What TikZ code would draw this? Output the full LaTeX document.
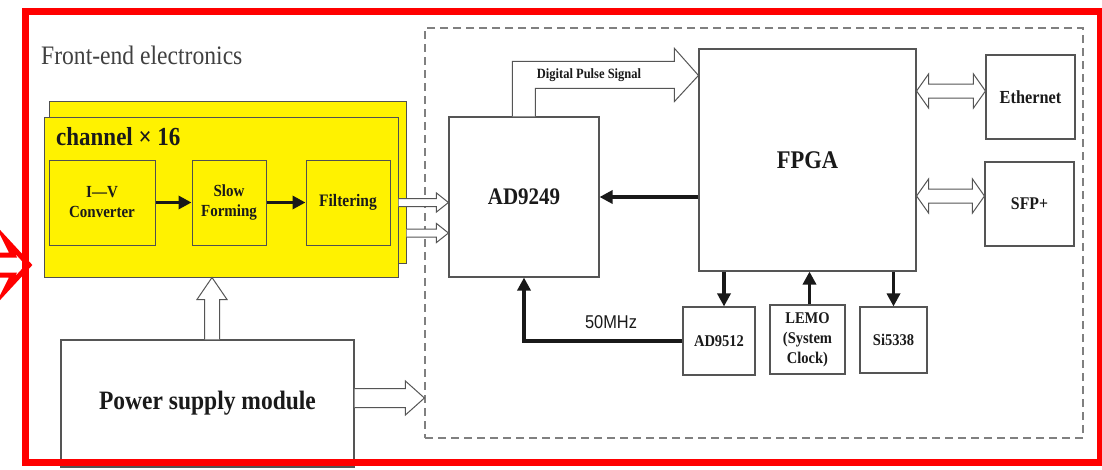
\documentclass[tikz,border=0pt]{standalone}
\usepackage{fontspec}
\setmainfont{Liberation Serif}
\newfontfamily\arialf{Liberation Sans}
\usetikzlibrary{arrows.meta,calc}
\definecolor{boxgray}{HTML}{555555}
\definecolor{ygray}{HTML}{505050}
\definecolor{dashgray}{HTML}{808080}
\definecolor{fegray}{HTML}{404040}
\definecolor{txt}{HTML}{1A1A1A}
\newcommand\fsz[2]{\fontsize{#1}{#2}\selectfont}
\newcommand\tall[1]{\scalebox{1}[1.13]{#1}}
\newcommand\hollowarr[5]{%
  \coordinate (ha-s) at (#1); \coordinate (ha-e) at (#2);
  \coordinate (ha-b) at ($(ha-e)!#5!(ha-s)$);
  \draw[hollow] ($(ha-s)!#3!90:(ha-e)$) -- ($(ha-b)!#3!-90:(ha-s)$) -- ($(ha-b)!#4!-90:(ha-s)$) -- (ha-e) -- ($(ha-b)!#4!90:(ha-s)$) -- ($(ha-b)!#3!90:(ha-s)$) -- ($(ha-s)!#3!-90:(ha-e)$);
}
\newcommand\hollowdbl[5]{%
  \coordinate (ha-s) at (#1); \coordinate (ha-e) at (#2);
  \coordinate (ha-b) at ($(ha-e)!#5!(ha-s)$);
  \coordinate (ha-a) at ($(ha-s)!#5!(ha-e)$);
  \draw[hollow] (ha-s) -- ($(ha-a)!#4!-90:(ha-e)$) -- ($(ha-a)!#3!-90:(ha-e)$) -- ($(ha-b)!#3!90:(ha-s)$) -- ($(ha-b)!#4!90:(ha-s)$) -- (ha-e) -- ($(ha-b)!#4!-90:(ha-s)$) -- ($(ha-b)!#3!-90:(ha-s)$) -- ($(ha-a)!#3!90:(ha-e)$) -- ($(ha-a)!#4!90:(ha-e)$) -- cycle;
}
\begin{document}
\begin{tikzpicture}[x=1pt,y=-1pt,
  box/.style={draw=boxgray,line width=1.1pt,fill=white,inner sep=0pt,align=center,text=txt},
  ybox/.style={draw=ygray,line width=1pt,fill=yellow,inner sep=0pt,align=center,text=txt},
  blk/.style={line width=3.3pt,draw=black!90,-{Triangle[length=13pt,width=13pt]}},
  hollow/.style={draw=boxgray,line width=1pt,fill=white,line join=miter},
]
\useasboundingbox (0,0) rectangle (1102,469);
\clip (0,0) rectangle (1102,469);
\fill[white] (0,0) rectangle (1102,469);

% back-end dashed frame
\node[draw=dashgray,line width=1.2pt,dash pattern=on 8pt off 5pt,inner sep=0,minimum width=658,minimum height=410] (be) at (754,233) {};

\node[anchor=west,inner sep=0,text=fegray,font=\fsz{23.6}{25}] (fe) at (41,55) {\tall{Front-end electronics}};

% channel boxes
\node[ybox,minimum width=357,minimum height=162] (chanback) at (227.5,182) {};
\node[ybox,minimum width=354,minimum height=160] (chan) at (221,197) {};
\node[anchor=west,inner sep=0,text=txt,font=\bfseries\fsz{23}{25}] (chanlbl) at (56,137) {\tall{channel × 16}};
\node[ybox,minimum width=106,minimum height=85,font=\bfseries\fsz{15}{20}] (iv) at (102,202.5) {\tall{I—V}\\\tall{Converter}};
\node[ybox,minimum width=74,minimum height=85,font=\bfseries\fsz{15}{20}] (slow) at (229,202.5) {\tall{Slow}\\\tall{Forming}};
\node[ybox,minimum width=84,minimum height=85,font=\bfseries\fsz{15.5}{20}] (filt) at (348,202.5) {\tall{Filtering}};
\draw[blk] (iv) -- (slow);
\draw[blk] (slow) -- (filt);

% back-end boxes
\node[box,minimum width=150,minimum height=160,font=\bfseries\fsz{21}{24}] (ad) at (524,197) {\tall{AD9249}};
\node[box,minimum width=217,minimum height=222,font=\bfseries\fsz{22.5}{24}] (fpga) at (807.5,160) {\tall{FPGA}};
\node[box,minimum width=89,minimum height=84,font=\bfseries\fsz{16.3}{18}] (eth) at (1030.5,97) {\tall{Ethernet}};
\node[box,minimum width=89,minimum height=84,font=\bfseries\fsz{15.8}{18}] (sfp) at (1029.5,204) {\tall{SFP+}};
\node[box,minimum width=72,minimum height=68,font=\bfseries\fsz{14.5}{19}] (ad9512) at (719,341) {\tall{AD9512}};
\node[box,minimum width=75,minimum height=69,font=\bfseries\fsz{14.5}{20}] (lemo) at (807.5,339.5) {\tall{LEMO}\\\tall{(System}\\\tall{Clock)}};
\node[box,minimum width=67,minimum height=66,font=\bfseries\fsz{14.5}{19}] (si) at (893.5,340) {\tall{Si5338}};

% power supply
\node[box,minimum width=293,minimum height=127,font=\bfseries\fsz{23.5}{26}] (psu) at (207.5,403.5) {\tall{Power supply module}};

% hollow arrows: channel -> ADC
\hollowarr{chan.east |- filt.east}{ad.west |- filt.east}{4pt}{9.5pt}{12pt}
\coordinate (in2) at ($(chanback.east)+(0,51)$);
\hollowarr{in2}{ad.west |- in2}{4pt}{9.5pt}{12pt}
% power arrows
\coordinate (pu1) at ($(psu.north)+(4.5,0)$);
\hollowarr{pu1}{pu1 |- chan.south}{7.5pt}{15pt}{22pt}
\coordinate (pr1) at ($(psu.east)+(0,-5.5)$);
\hollowarr{pr1}{be.west |- pr1}{9.5pt}{17pt}{19pt}
% FPGA <-> Ethernet / SFP+
\coordinate (e1) at ($(eth.west)+(0,-6)$);
\hollowdbl{fpga.east |- e1}{e1}{7pt}{17pt}{12pt}
\coordinate (s1) at ($(sfp.west)+(0,-8)$);
\hollowdbl{fpga.east |- s1}{s1}{7pt}{17pt}{12pt}

% digital pulse signal arrow
\coordinate (dp1) at ($(ad.north west)+(64,0)$);
\coordinate (dp2) at ($(ad.north west)+(87,0)$);
\coordinate (dptip) at ($(fpga.north west)+(0,27)$);
\coordinate (hs1) at ($(dptip)+(-24,-14)$);
\coordinate (hh1) at ($(dptip)+(-24,-27)$);
\coordinate (hs2) at ($(dptip)+(-24,13)$);
\coordinate (hh2) at ($(dptip)+(-24,26)$);
\draw[hollow] (dp1) -- (dp1 |- hs1) -- (hs1) -- (hh1) -- (dptip) -- (hh2) -- (hs2) -- (dp2 |- hs2) -- (dp2);
\node[inner sep=0,text=txt,font=\bfseries\fsz{12.5}{14}] (dplbl) at (589,75) {\tall{Digital Pulse Signal}};

% black arrows
\draw[blk] (fpga.west |- ad.east) -- (ad.east);
\draw[blk] ($(fpga.south -| ad9512.north)+(5,0)$) -- ($(ad9512.north)+(5,0)$);
\draw[blk] ($(lemo.north)+(2,0)$) -- ($(lemo.north |- fpga.south)+(2,0)$);
\draw[blk] (fpga.south -| si.north) -- (si.north);
\draw[blk] (ad9512.west) -| (ad.south);
\node[inner sep=0,text=txt,font=\arialf\fsz{16.4}{18}] (mhz) at (611,322) {\tall{50MHz}};

% red frame and red arrow
\draw[red,line width=7pt] (25.5,11.5) rectangle (1100,462.5);
\draw[red,line width=5pt,line join=miter] (-10,255) -- (13,255) -- (5,239) -- (29,265) -- (5,291) -- (13,275) -- (-10,275);
\end{tikzpicture}
\end{document}
